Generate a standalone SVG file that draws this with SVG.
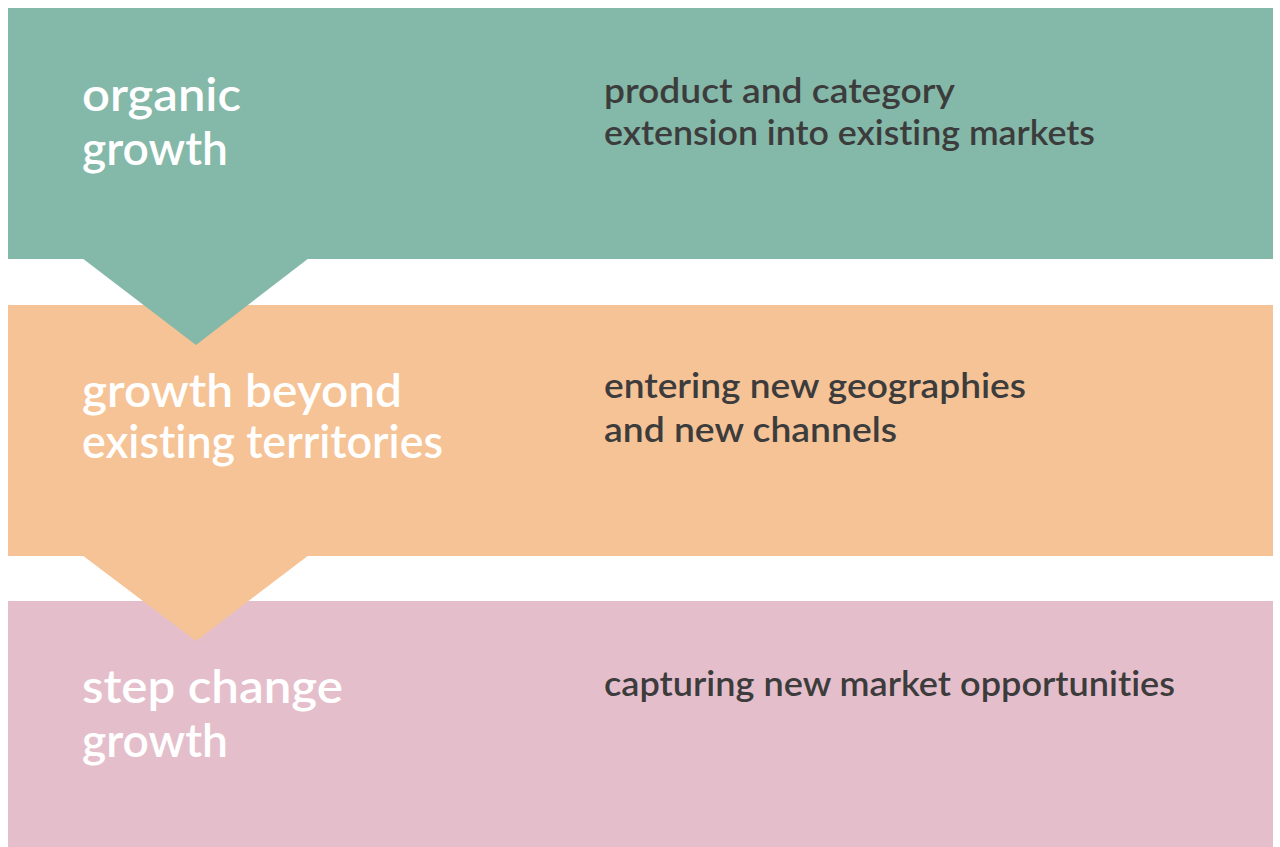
<svg xmlns="http://www.w3.org/2000/svg" width="1280" height="847" viewBox="0 0 1280 847">
<style>
.t{font-family:Lato,"Liberation Sans",sans-serif;font-weight:600;fill:#ffffff;font-size:46px;font-variant-ligatures:none;font-feature-settings:"liga" 0,"dlig" 0}
.d{font-family:Lato,"Liberation Sans",sans-serif;font-weight:600;fill:#3c3c3c;font-size:34px;font-variant-ligatures:none;font-feature-settings:"liga" 0,"dlig" 0}
</style>
<rect width="1280" height="847" fill="#ffffff"/>
<g id="band3">
<rect x="8" y="601" width="1265" height="246" fill="#e4bfcb"/>
<text class="t" x="82" y="703" textLength="261" lengthAdjust="spacingAndGlyphs">step change</text>
<text class="t" x="82" y="757" textLength="146" lengthAdjust="spacingAndGlyphs">growth</text>
<text class="d" x="604" y="696" textLength="571" lengthAdjust="spacingAndGlyphs">capturing new market opportunities</text>
</g>
<g id="band2">
<rect x="8" y="305" width="1265" height="251" fill="#f6c396"/>
<polygon points="82,555 309,555 196,641" fill="#f6c396"/>
<text class="t" x="82" y="407" textLength="320" lengthAdjust="spacingAndGlyphs">growth beyond</text>
<text class="t" x="82" y="458" textLength="361" lengthAdjust="spacingAndGlyphs">existing territories</text>
<text class="d" x="604" y="398" textLength="422" lengthAdjust="spacingAndGlyphs">entering new geographies</text>
<text class="d" x="604" y="442" textLength="293" lengthAdjust="spacingAndGlyphs">and new channels</text>
</g>
<g id="band1">
<rect x="8" y="8" width="1265" height="251" fill="#84b8a8"/>
<polygon points="82,258 309,258 196,345" fill="#84b8a8"/>
<text class="t" x="82" y="111" textLength="159" lengthAdjust="spacingAndGlyphs">organic</text>
<text class="t" x="82" y="165" textLength="146" lengthAdjust="spacingAndGlyphs">growth</text>
<text class="d" x="604" y="103" textLength="351" lengthAdjust="spacingAndGlyphs">product and category</text>
<text class="d" x="604" y="145" textLength="491" lengthAdjust="spacingAndGlyphs">extension into existing markets</text>
</g>
<g id="connectors"></g>
</svg>
